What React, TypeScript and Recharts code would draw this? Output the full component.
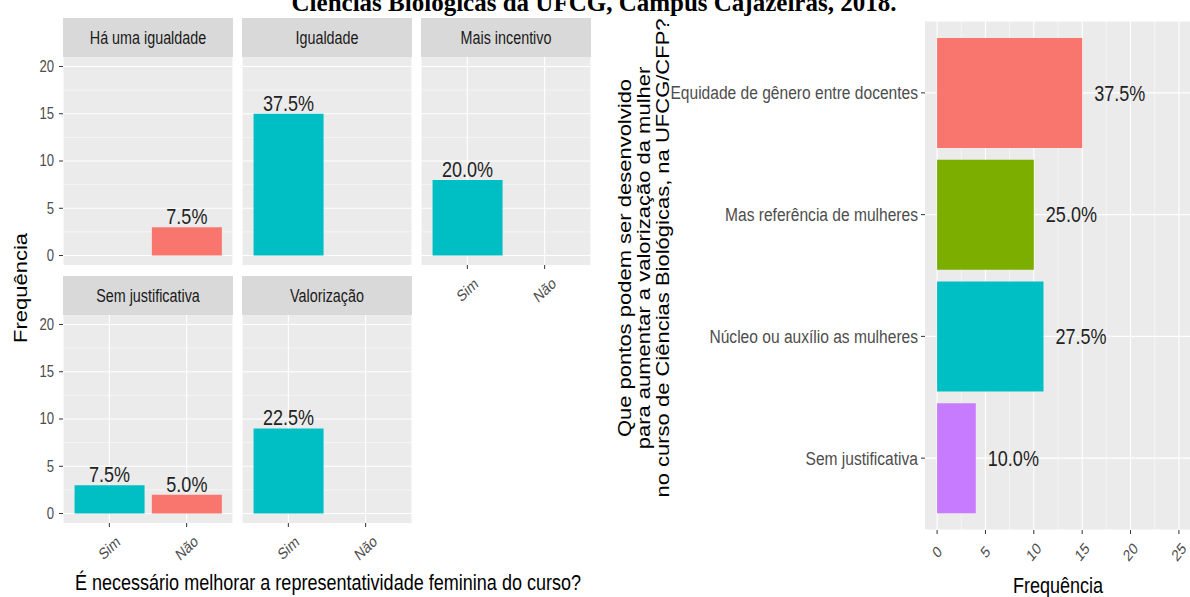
import React from "react";
import { Bar, BarChart, CartesianGrid, Cell, LabelList, XAxis, YAxis } from "recharts";

// left panel: one facet per justification, bars for Sim / Não
const facetNames = ["Há uma igualdade", "Igualdade", "Mais incentivo", "Sem justificativa", "Valorização"];
const answers = ["Sim", "Não"];
const simCounts = [null, 15, 8, 3, 9];
const naoCounts = [3, null, null, 2, null];
const simPct = [null, 37.5, 20.0, 7.5, 22.5];
const naoPct = [7.5, null, null, 5.0, null];
const facetTicks = [0, 5, 10, 15, 20];
const facetMinor = [2.5, 7.5, 12.5, 17.5];

// right panel: proposed actions
const pointNames = [
  "Equidade de gênero entre docentes",
  "Mas referência de mulheres",
  "Núcleo ou auxílio as mulheres",
  "Sem justificativa",
];
const pointCounts = [15, 10, 11, 4];
const pointPct = [37.5, 25.0, 27.5, 10.0];
const pointColors = ["#F8766D", "#7CAE00", "#00BFC4", "#C77CFF"];
const freqTicks = [0, 5, 10, 15, 20, 25];
const freqMinor = [2.5, 7.5, 12.5, 17.5, 22.5];

const TEAL = "#00BFC4";
const RED = "#F8766D";
const SANS = "'Liberation Sans', Arial, sans-serif";
const SQ = 0.82; // the original picture is squeezed horizontally

const COL_X = [63, 242, 421];
const STRIP_TOP = [18, 276];
const PANEL_TOP = [57, 315];
const PANEL_W = 170;
const PANEL_H = 208;
const STRIP_H = 39;
const AXW = 45;

const pctText = (v: any) => `${Number(v).toFixed(1)}%`;

// text drawn at (x, y), optionally rotated, then squeezed on the x axis
function SqText({ x, y, angle = 0, anchor = "middle", baseline = "central", size, fill = "#000000", children }: any) {
  return (
    <text
      transform={`translate(${x},${y}) scale(${SQ},1) rotate(${angle})`}
      textAnchor={anchor}
      dominantBaseline={baseline}
      fontSize={size}
      fill={fill}
      fontFamily={SANS}
    >
      {children}
    </text>
  );
}

function SlantTick(props: any) {
  const { x, payload, baseY, angle } = props;
  return (
    <SqText x={x} y={baseY} angle={angle} size={16} fill="#4D4D4D">
      {payload.value}
    </SqText>
  );
}

function LeftTick(props: any) {
  const { x, y, payload, size } = props;
  return (
    <SqText x={x} y={y} anchor="end" size={size} fill="#4D4D4D">
      {payload.value}
    </SqText>
  );
}

function TopLabel(props: any) {
  const { x, y, width, value } = props;
  if (value == null) return null;
  return (
    <SqText x={Number(x) + Number(width) / 2} y={Number(y) - 3} baseline="auto" size={22} fill="#222222">
      {pctText(value)}
    </SqText>
  );
}

function RightLabel(props: any) {
  const { x, y, width, height, value } = props;
  if (value == null) return null;
  return (
    <SqText x={Number(x) + Number(width) + 12} y={Number(y) + Number(height) / 2} anchor="start" size={22} fill="#222222">
      {pctText(value)}
    </SqText>
  );
}

function Facet({ idx }: { idx: number }) {
  const col = idx % 3;
  const row = Math.floor(idx / 3);
  const showY = col === 0;
  const showX = row === 1 || col === 2;
  const data = answers.map((a, k) => ({
    answer: a,
    n: k === 0 ? simCounts[idx] : naoCounts[idx],
    pct: k === 0 ? simPct[idx] : naoPct[idx],
  }));
  return (
    <div style={{ position: "absolute", left: COL_X[col] - AXW, top: PANEL_TOP[row] }}>
      <BarChart
        width={AXW + PANEL_W}
        height={PANEL_H + 50}
        data={data}
        margin={{ top: 0, right: 0, bottom: 0, left: showY ? 0 : AXW }}
        barCategoryGap="5%"
      >
        <CartesianGrid fill="#EBEBEB" stroke="#FFFFFF" strokeWidth={1.1} horizontalValues={facetTicks} />
        <CartesianGrid stroke="#FFFFFF" strokeWidth={0.5} vertical={false} horizontalValues={facetMinor} />
        <XAxis
          dataKey="answer"
          padding={{ left: 7.7, right: 7.7 }}
          axisLine={false}
          tickLine={showX ? { stroke: "#333333" } : false}
          tickSize={4}
          height={50}
          interval={0}
          tick={showX ? <SlantTick baseY={PANEL_H + 25} angle={-38} /> : false}
        />
        <YAxis
          hide={!showY}
          width={AXW}
          type="number"
          domain={[-1, 21]}
          ticks={facetTicks}
          axisLine={false}
          tickLine={{ stroke: "#333333" }}
          tickSize={4}
          tickMargin={5}
          tick={<LeftTick size={16} />}
        />
        <Bar dataKey="n" isAnimationActive={false}>
          {data.map((d) => (
            <Cell key={d.answer} fill={d.answer === "Sim" ? TEAL : RED} />
          ))}
          <LabelList dataKey="pct" content={<TopLabel />} />
        </Bar>
      </BarChart>
    </div>
  );
}

function PointsChart() {
  const data = pointNames.map((name, i) => ({ name, n: pointCounts[i], pct: pointPct[i] }));
  return (
    <div style={{ position: "absolute", left: 640, top: 0 }}>
      <BarChart
        layout="vertical"
        width={551}
        height={597}
        data={data}
        margin={{ top: 21, right: 0, bottom: 0, left: 0 }}
        barCategoryGap="5%"
      >
        <CartesianGrid fill="#EBEBEB" stroke="#FFFFFF" strokeWidth={1.1} verticalValues={freqTicks} />
        <CartesianGrid stroke="#FFFFFF" strokeWidth={0.5} horizontal={false} verticalValues={freqMinor} />
        <XAxis
          type="number"
          domain={[-1.25, 26.25]}
          ticks={freqTicks}
          height={67}
          axisLine={false}
          tickLine={{ stroke: "#333333" }}
          tickSize={4}
          interval={0}
          tick={<SlantTick baseY={552} angle={-45} />}
        />
        <YAxis
          type="category"
          dataKey="name"
          width={285}
          padding={{ top: 11, bottom: 11 }}
          axisLine={false}
          tickLine={{ stroke: "#333333" }}
          tickSize={4}
          tickMargin={3}
          interval={0}
          tick={<LeftTick size={19} />}
        />
        <Bar dataKey="n" isAnimationActive={false}>
          {data.map((d, i) => (
            <Cell key={d.name} fill={pointColors[i]} />
          ))}
          <LabelList dataKey="pct" content={<RightLabel />} />
        </Bar>
      </BarChart>
    </div>
  );
}

const yTitleLines = [
  "Que pontos podem ser desenvolvido",
  "para aumentar a valorização da mulher",
  "no curso de Ciências Biológicas, na UFCG/CFP?",
];

export default function App() {
  return (
    <div style={{ position: "absolute", left: 0, top: 0, width: 1190, height: 597, overflow: "hidden", background: "#FFFFFF" }}>
      {facetNames.map((_, i) => (
        <Facet key={i} idx={i} />
      ))}
      <PointsChart />
      <svg width={1190} height={597} style={{ position: "absolute", left: 0, top: 0, pointerEvents: "none" }}>
        <text x={594} y={11} textAnchor="middle" fontFamily="'Liberation Serif', serif" fontWeight="bold" fontSize={25}>
          Ciências Biológicas da UFCG, Campus Cajazeiras, 2018.
        </text>
        {facetNames.map((name, i) => {
          const col = i % 3;
          const row = Math.floor(i / 3);
          return (
            <g key={name}>
              <rect x={COL_X[col]} y={STRIP_TOP[row]} width={PANEL_W} height={STRIP_H} fill="#D9D9D9" />
              <SqText x={COL_X[col] + PANEL_W / 2} y={STRIP_TOP[row] + STRIP_H / 2} size={17.5} fill="#1A1A1A">
                {name}
              </SqText>
            </g>
          );
        })}
        <SqText x={21} y={288} angle={-90} size={22}>
          Frequência
        </SqText>
        <SqText x={328} y={590} baseline="auto" size={22}>
          É necessário melhorar a representatividade feminina do curso?
        </SqText>
        {yTitleLines.map((line, i) => (
          <SqText key={line} x={625 + i * 18.8} y={258} angle={-90} size={22}>
            {line}
          </SqText>
        ))}
        <SqText x={1058} y={593} baseline="auto" size={22}>
          Frequência
        </SqText>
      </svg>
    </div>
  );
}
